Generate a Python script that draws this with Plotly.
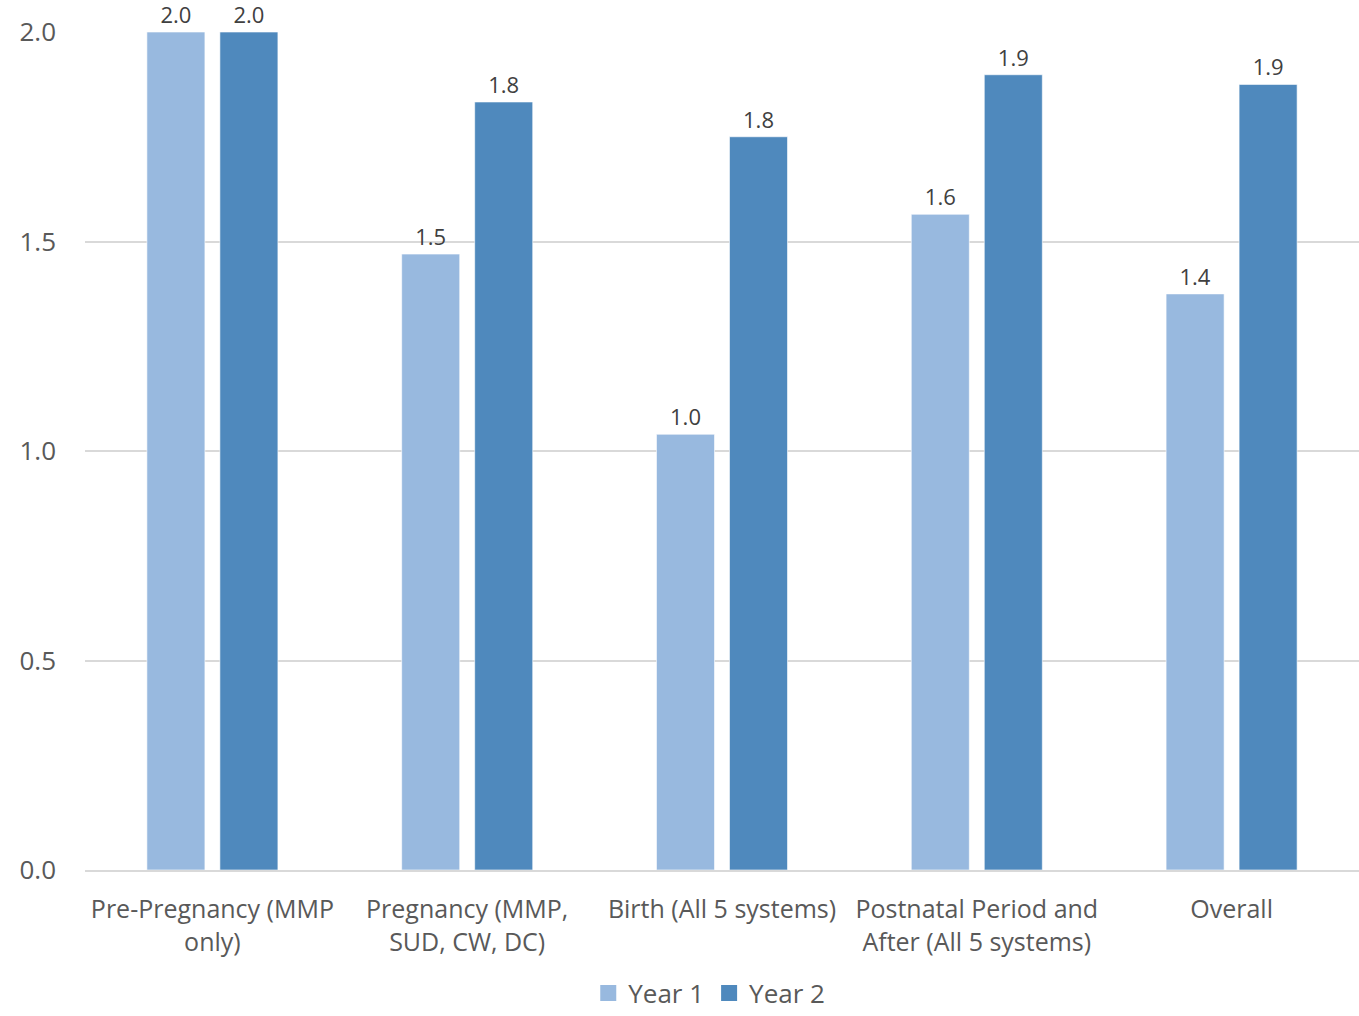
import plotly.graph_objects as go

categories = ["Pre-Pregnancy (MMP<br>only)", "Pregnancy (MMP,<br>SUD, CW, DC)",
              "Birth (All 5 systems)", "Postnatal Period and<br>After (All 5 systems)", "Overall"]
year1 = [2.0, 1.47, 1.04, 1.565, 1.375]
year2 = [2.0, 1.833, 1.75, 1.898, 1.875]
series_names = ["Year 1", "Year 2"]
colors = ["#98B9DF", "#4F89BD"]

FONT = "Open Sans"

fig = go.Figure()
for name, vals, col in zip(series_names, [year1, year2], colors):
    fig.add_trace(go.Bar(
        x=categories, y=vals, name=name, showlegend=False,
        marker=dict(color=col, line=dict(color="rgba(255,255,255,0.6)", width=1)),
        texttemplate="%{y:.1f}", textposition="outside", cliponaxis=False,
        textfont=dict(family=FONT, size=22, color="#404040"),
    ))
# legend entries with larger square swatches
for name, col in zip(series_names, colors):
    fig.add_trace(go.Scatter(
        x=[None], y=[None], mode="markers", name=name,
        marker=dict(symbol="square", size=16, color=col),
    ))

fig.update_layout(
    width=1359, height=1016,
    margin=dict(l=85, r=0, t=32, b=146, autoexpand=False),
    paper_bgcolor="white", plot_bgcolor="white",
    barmode="group", bargap=0.427, bargroupgap=0.205,
    font=dict(family=FONT, color="#595959"),
    showlegend=True,
    legend=dict(orientation="h", x=0.49, xanchor="center", y=-0.175, yanchor="bottom",
                font=dict(family=FONT, size=26, color="#595959"),
                itemwidth=30, traceorder="normal"),
)
fig.update_xaxes(
    showline=True, linecolor="#D9D9D9", linewidth=2,
    tickfont=dict(family=FONT, size=25, color="#595959"),
    ticks="", ticklabelstandoff=16,
)
fig.update_yaxes(
    range=[0, 2.0], dtick=0.5, tickformat=".1f",
    showgrid=True, gridcolor="#D9D9D9", gridwidth=1.5,
    zeroline=False, showline=False,
    tickfont=dict(family=FONT, size=26, color="#595959"),
    ticks="", ticklabelstandoff=28,
)

fig.write_html("out.html")
